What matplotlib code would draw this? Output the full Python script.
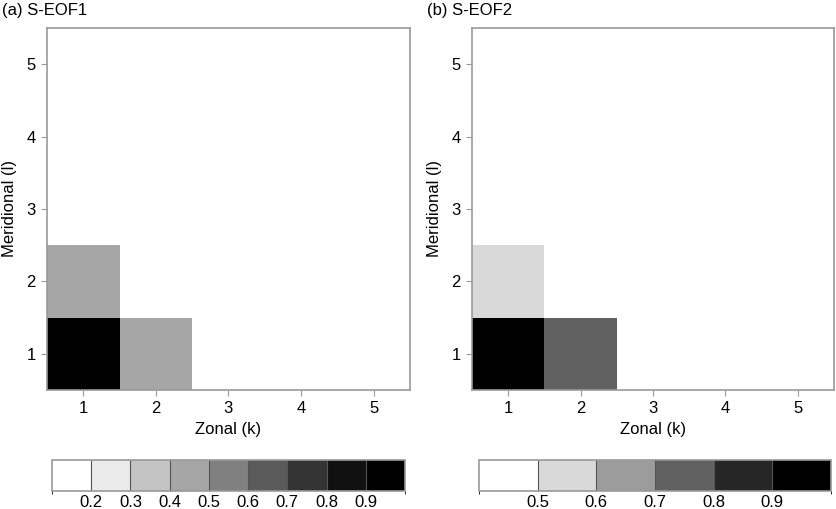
import numpy as np
import matplotlib
matplotlib.use("Agg")
from matplotlib import pyplot as plt
from matplotlib.colors import ListedColormap, BoundaryNorm

plt.rcParams['font.family'] = ['Liberation Sans', 'DejaVu Sans']

# Indices de onda zonal (k) y meridional (l)
zonal_k = [1, 2, 3, 4, 5]
meridional_l = [1, 2, 3, 4, 5]

# Valores S-EOF1, filas = l, columnas = k
seof1 = np.array([
    [0.95, 0.45, 0.15, 0.15, 0.15],
    [0.45, 0.15, 0.15, 0.15, 0.15],
    [0.15, 0.15, 0.15, 0.15, 0.15],
    [0.15, 0.15, 0.15, 0.15, 0.15],
    [0.15, 0.15, 0.15, 0.15, 0.15],
])

# Valores S-EOF2
seof2 = np.array([
    [0.95, 0.75, 0.45, 0.45, 0.45],
    [0.55, 0.45, 0.45, 0.45, 0.45],
    [0.45, 0.45, 0.45, 0.45, 0.45],
    [0.45, 0.45, 0.45, 0.45, 0.45],
    [0.45, 0.45, 0.45, 0.45, 0.45],
])

niveles1 = [0.1, 0.2, 0.3, 0.4, 0.5, 0.6, 0.7, 0.8, 0.9, 1.0]
colores1 = ['#ffffff', '#ebebeb', '#c4c4c4', '#a6a6a6', '#808080',
            '#5a5a5a', '#333333', '#111111', '#000000']
ticks1 = [0.2, 0.3, 0.4, 0.5, 0.6, 0.7, 0.8, 0.9]

niveles2 = [0.4, 0.5, 0.6, 0.7, 0.8, 0.9, 1.0]
colores2 = ['#ffffff', '#d9d9d9', '#9c9c9c', '#606060', '#262626', '#000000']
ticks2 = [0.5, 0.6, 0.7, 0.8, 0.9]

gris = '#999999'
fs = 12

fig = plt.figure(figsize=(8.36, 5.09), dpi=100)

paneles = [
    ("(a) S-EOF1", seof1, niveles1, colores1, ticks1,
     [0.0562, 0.234, 0.434, 0.711], [0.0622, 0.0354, 0.4222, 0.061], 0.002),
    ("(b) S-EOF2", seof2, niveles2, colores2, ticks2,
     [0.5646, 0.234, 0.433, 0.711], [0.573, 0.0354, 0.421, 0.061], 0.511),
]

for titulo, datos, niveles, colores, ticks, pos_ax, pos_cb, x_tit in paneles:
    ax = fig.add_axes(pos_ax)
    cmap = ListedColormap(colores)
    norm = BoundaryNorm(niveles, cmap.N)
    bordes_x = np.arange(len(zonal_k) + 1) + 0.5
    bordes_y = np.arange(len(meridional_l) + 1) + 0.5
    malla = ax.pcolormesh(bordes_x, bordes_y, datos, cmap=cmap, norm=norm)
    ax.set_xlim(0.5, 5.5)
    ax.set_ylim(0.5, 5.5)
    ax.set_xticks(zonal_k)
    ax.set_yticks(meridional_l)
    ax.tick_params(direction='out', length=4, color=gris, labelsize=fs, pad=4)
    for s in ax.spines.values():
        s.set_color(gris)
        s.set_linewidth(1.2)
    ax.set_xlabel("Zonal (k)", fontsize=fs, labelpad=4)
    ax.set_ylabel("Meridional (l)", fontsize=fs, labelpad=7)
    fig.text(x_tit, 0.995, titulo, fontsize=fs, ha='left', va='top')

    #* Barra de colores
    cax = fig.add_axes(pos_cb)
    cb = fig.colorbar(malla, cax=cax, orientation='horizontal',
                      boundaries=niveles, ticks=ticks, drawedges=True)
    cb.outline.set_edgecolor(gris)
    cb.outline.set_linewidth(1.2)
    cb.dividers.set_color('#555555')
    cb.dividers.set_linewidth(0.8)
    cax.tick_params(length=0, labelsize=fs, pad=3)

fig.savefig("out.png", dpi=100)
